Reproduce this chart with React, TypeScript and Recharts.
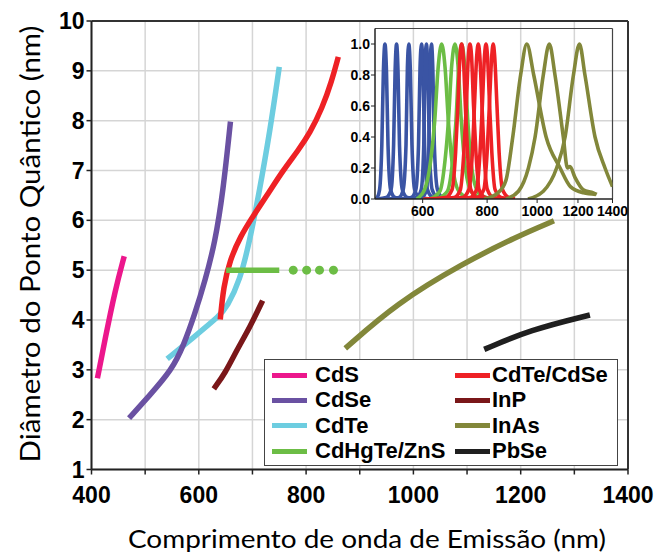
import { LineChart, Line, XAxis, YAxis, CartesianGrid, ReferenceLine } from "recharts";

// emission wavelength (nm) vs dot diameter (nm)
const cdsPoints = [[411, 2.83], [425, 3.6], [444, 4.6], [461, 5.28]];
const cdsePoints = [[470, 2.03], [506, 2.46], [550, 3.0], [572, 3.5], [592, 4.1], [612, 4.8], [630, 5.55], [645, 6.55], [659, 7.98]];
const cdtePoints = [[541, 3.22], [590, 3.65], [640, 4.1], [652, 4.25], [677, 4.8], [695, 5.6], [711, 6.47], [733, 7.81], [750, 9.08]];
const cdhgtePoints = [[651, 5.0], [750, 5.0]];
const cdhgteDots = [[776, 5.0], [801, 5.0], [825, 5.0], [851, 5.0]];
const cdteCdsePoints = [[640, 4.01], [646, 4.67], [658, 5.2], [677, 5.67], [702, 6.1], [730, 6.55], [757, 7.0], [785, 7.4], [807, 7.75], [830, 8.25], [848, 8.8], [860, 9.28]];
const inpPoints = [[628, 2.62], [649, 2.93], [671, 3.4], [695, 3.85], [719, 4.39]];
const inasPoints = [[873, 3.43], [969, 4.34], [1093, 5.14], [1192, 5.67], [1262, 5.99]];
const pbsePoints = [[1132, 3.41], [1217, 3.8], [1329, 4.1]];

const mainXTicks = [400, 500, 600, 700, 800, 900, 1000, 1100, 1200, 1300, 1400];
const mainYTicks = [1, 2, 3, 4, 5, 6, 7, 8, 9, 10];

// normalised PL spectra for the inset
const blueSpectra = [
  [[486, 0], [490, 0.01], [495, 0.06], [500, 0.35], [503.5, 0.82], [507, 1], [510.5, 0.82], [514, 0.35], [520, 0.06], [530, 0.01], [545, 0]],
  [[490, 0], [510, 0.01], [521, 0.06], [527, 0.35], [530.5, 0.82], [534, 1], [537.5, 0.82], [541, 0.35], [548, 0.06], [560, 0.01], [580, 0]],
  [[510, 0], [540, 0.01], [550, 0.06], [557, 0.35], [560.5, 0.85], [564, 1], [568, 0.82], [572, 0.35], [579, 0.06], [592, 0.01], [620, 0]],
  [[540, 0], [570, 0.01], [582, 0.06], [589, 0.35], [593, 0.85], [597, 1], [601, 0.82], [605, 0.35], [613, 0.06], [628, 0.01], [660, 0]],
  [[555, 0], [584, 0.01], [596, 0.06], [603, 0.35], [606, 0.85], [610, 1], [614, 0.82], [618, 0.35], [626, 0.06], [641, 0.01], [670, 0]],
  [[570, 0], [598, 0.01], [610, 0.06], [617, 0.35], [620, 0.85], [624, 1], [628, 0.82], [632, 0.35], [641, 0.06], [656, 0.01], [680, 0]],
];
const greenSpectra = [
  [[584, 0], [605, 0.06], [622, 0.25], [633, 0.5], [643, 0.85], [653, 1], [663, 0.85], [673, 0.5], [685, 0.22], [705, 0.05], [740, 0]],
  [[620, 0], [648, 0.05], [663, 0.25], [673, 0.5], [683, 0.86], [693, 1], [703, 0.85], [713, 0.5], [726, 0.2], [748, 0.04], [790, 0]],
  [[640, 0], [670, 0.05], [686, 0.25], [696, 0.5], [705, 0.86], [714, 1], [724, 0.85], [734, 0.5], [747, 0.2], [770, 0.04], [810, 0]],
];
const redSpectra = [
  [[602, 0], [664, 0.01], [684, 0.06], [695, 0.3], [702, 0.6], [709, 0.93], [714, 1], [719, 0.93], [726, 0.6], [733, 0.3], [744, 0.06], [764, 0.01], [860, 0]],
  [[610, 0], [690, 0.01], [710, 0.06], [721, 0.3], [729, 0.6], [736, 0.93], [741, 1], [746, 0.93], [753, 0.6], [761, 0.3], [772, 0.06], [793, 0.01], [880, 0]],
  [[620, 0], [716, 0.01], [737, 0.06], [749, 0.3], [756, 0.6], [764, 0.93], [769, 1], [774, 0.93], [782, 0.6], [789, 0.3], [801, 0.06], [823, 0.01], [895, 0]],
  [[630, 0], [741, 0.01], [763, 0.06], [775, 0.3], [783, 0.6], [791, 0.93], [796, 1], [801, 0.93], [809, 0.6], [817, 0.3], [829, 0.06], [852, 0.01], [906, 0]],
  [[640, 0], [765, 0.01], [788, 0.06], [800, 0.3], [808, 0.6], [817, 0.93], [822, 1], [827, 0.93], [836, 0.6], [844, 0.3], [857, 0.06], [880, 0.01], [906, 0]],
];
const oliveSpectra = [
  [[790, 0], [840, 0.04], [870, 0.12], [897, 0.4], [929, 0.8], [955, 1], [985, 0.8], [1041, 0.4], [1108, 0.2], [1160, 0.08], [1230, 0.04], [1300, 0.03]],
  [[870, 0], [920, 0.05], [962, 0.2], [991, 0.4], [1028, 0.8], [1056, 1], [1083, 0.8], [1124, 0.4], [1145, 0.2], [1158, 0.21], [1184, 0.14], [1229, 0.06], [1285, 0.04], [1305, 0.03]],
  [[960, 0], [1028, 0.05], [1091, 0.2], [1133, 0.4], [1176, 0.8], [1208, 1], [1238, 0.8], [1295, 0.4], [1354, 0.2], [1400, 0.08]],
];
const insetXTicks = [600, 800, 1000, 1200, 1400];
const insetYTicks = [0, 0.2, 0.4, 0.6, 0.8, 1.0];

const C = {
  cds: "#EC178C",
  cdse: "#6A51A2",
  cdte: "#6DCDE0",
  cdhgte: "#6CBD45",
  cdteCdse: "#EE2125",
  inp: "#7A1719",
  inas: "#82873A",
  pbse: "#1F1F1F",
  blue: "#3A54A4",
};

const toXY = (pts: number[][]) => pts.map(([x, y]) => ({ x, y }));

// drawing order: later entries sit on top
const mainSeries = [
  { key: "cdte", color: C.cdte, pts: cdtePoints },
  { key: "cdse", color: C.cdse, pts: cdsePoints },
  { key: "cds", color: C.cds, pts: cdsPoints },
  { key: "cdteCdse", color: C.cdteCdse, pts: cdteCdsePoints },
  { key: "cdhgte", color: C.cdhgte, pts: cdhgtePoints },
  { key: "inp", color: C.inp, pts: inpPoints },
  { key: "inas", color: C.inas, pts: inasPoints },
  { key: "pbse", color: C.pbse, pts: pbsePoints },
];

const legendCols = [
  [
    { label: "CdS", color: C.cds },
    { label: "CdSe", color: C.cdse },
    { label: "CdTe", color: C.cdte },
    { label: "CdHgTe/ZnS", color: C.cdhgte },
  ],
  [
    { label: "CdTe/CdSe", color: C.cdteCdse },
    { label: "InP", color: C.inp },
    { label: "InAs", color: C.inas },
    { label: "PbSe", color: C.pbse },
  ],
];

const insetSeries = [
  ...blueSpectra.map((s) => ({ color: C.blue, pts: s })),
  ...greenSpectra.map((s) => ({ color: C.cdhgte, pts: s })),
  ...redSpectra.map((s) => ({ color: C.cdteCdse, pts: s })),
  ...oliveSpectra.map((s) => ({ color: C.inas, pts: s })),
];

const W = 665;
const H = 553;
const SANS = "'Liberation Sans', Arial, sans-serif";
const axisTick = { fill: "#000", fontSize: 23, fontWeight: 700, fontFamily: SANS };
const insetTick = { fill: "#000", fontSize: 14, fontWeight: 700, fontFamily: SANS };

const Legend = () => (
  <div
    style={{
      position: "absolute", left: 264, top: 359, width: 354, height: 107,
      border: "1.5px solid #444", background: "#fff", boxSizing: "border-box",
      fontFamily: SANS, fontWeight: 700, fontSize: 22, color: "#000",
    }}
  >
    {legendCols.map((col, ci) =>
      col.map((it, ri) => (
        <div key={it.label} style={{ position: "absolute", left: ci === 0 ? 7 : 190, top: 15 + ri * 25.4 - 12, height: 24, display: "flex", alignItems: "center", whiteSpace: "nowrap" }}>
          <span style={{ display: "inline-block", width: 35, height: 5, background: it.color, marginRight: ci === 0 ? 8 : 2 }} />
          <span style={{ lineHeight: "24px" }}>{it.label}</span>
        </div>
      ))
    )}
  </div>
);

export default function App() {
  return (
    <div style={{ position: "absolute", left: 0, top: 0, width: W, height: H, background: "#fff" }}>
      <LineChart width={W} height={H} margin={{ top: 21, right: 37, bottom: 43.5, left: 31.5 }}>
        <CartesianGrid stroke="#d5d5d5" strokeWidth={1.5} />
        <XAxis
          type="number" dataKey="x" domain={[400, 1400]} ticks={mainXTicks} allowDataOverflow interval={0}
          height={40} tickSize={5} tickMargin={12} tick={axisTick}
          tickFormatter={(v: number) => (v % 200 === 0 ? String(v) : "")}
          axisLine={{ stroke: "#222", strokeWidth: 2 }} tickLine={{ stroke: "#222", strokeWidth: 1.5 }}
        />
        <YAxis
          type="number" domain={[1, 10]} ticks={mainYTicks} allowDataOverflow interval={0}
          width={60} tickSize={5} tickMargin={2} tick={axisTick}
          axisLine={{ stroke: "#222", strokeWidth: 2 }} tickLine={{ stroke: "#222", strokeWidth: 1.5 }}
        />
        <ReferenceLine y={10} stroke="#333" strokeWidth={2} />
        <ReferenceLine x={1400} stroke="#333" strokeWidth={2} />
        {mainSeries.map((s) => (
          <Line
            key={s.key} data={toXY(s.pts)} dataKey="y" type="basis"
            stroke={s.color} strokeWidth={5.5} dot={false} isAnimationActive={false}
          />
        ))}
        <Line
          data={toXY(cdhgteDots)} dataKey="y" stroke="none"
          dot={{ r: 4.5, fill: C.cdhgte, stroke: "none" }} isAnimationActive={false}
        />
      </LineChart>

      <div style={{ position: "absolute", left: 330, top: 20 }}>
        <LineChart width={320} height={210} margin={{ top: 8.5, right: 37.5, bottom: 1, left: 15 }}>
          <XAxis
            type="number" dataKey="x" scale="log" domain={[485, 1400]} ticks={insetXTicks} allowDataOverflow interval={0}
            height={30} tickSize={4} tickMargin={3} tick={insetTick}
            axisLine={{ stroke: "#222", strokeWidth: 1.5 }} tickLine={{ stroke: "#222" }}
          />
          <YAxis
            type="number" domain={[0, 1.1]} ticks={insetYTicks} allowDataOverflow interval={0}
            width={30} tickSize={4} tickMargin={1} tick={insetTick}
            tickFormatter={(v: number) => v.toFixed(1)}
            axisLine={{ stroke: "#222", strokeWidth: 1.5 }} tickLine={{ stroke: "#222" }}
          />
          <ReferenceLine y={1.1} stroke="#444" strokeWidth={1.2} />
          <ReferenceLine x={1400} stroke="#444" strokeWidth={1.2} />
          {insetSeries.map((s, i) => (
            <Line
              key={i} data={toXY(s.pts)} dataKey="y" type="monotone"
              stroke={s.color} strokeWidth={3.6} dot={false} isAnimationActive={false}
            />
          ))}
        </LineChart>
      </div>

      <Legend />

      <svg width={W} height={H} style={{ position: "absolute", left: 0, top: 0, pointerEvents: "none" }}>
        <text x={367} y={548} textAnchor="middle" fontFamily="Lato, sans-serif" fontSize={25} textLength={478} lengthAdjust="spacingAndGlyphs" fill="#000">
          Comprimento de onda de Emissão (nm)
        </text>
        <text transform="translate(40,244) rotate(-90)" textAnchor="middle" fontFamily="Lato, sans-serif" fontSize={26} textLength={437} lengthAdjust="spacingAndGlyphs" fill="#000">
          Diâmetro do Ponto Quântico (nm)
        </text>
      </svg>
    </div>
  );
}
